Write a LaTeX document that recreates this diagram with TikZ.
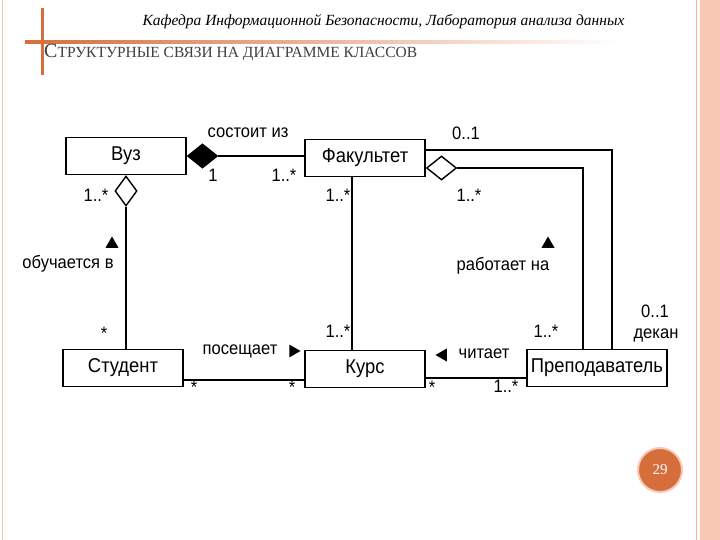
\documentclass[tikz,border=0pt]{standalone}
\usepackage{fontspec}
\setmainfont{Liberation Serif}
\newfontfamily\dsans{Liberation Sans}[FakeStretch=0.92]
\usetikzlibrary{shapes.geometric}
\definecolor{org}{RGB}{214,110,60}
\definecolor{pinkb}{RGB}{248,200,180}
\begin{document}
\begin{tikzpicture}[x=1pt,y=-1pt,
  cls/.style={draw,line width=1.6pt,minimum width=120pt,minimum height=37pt,inner sep=0pt,font=\dsans\fontsize{20}{20}\selectfont},
  lnk/.style={line width=1.6pt},
  lab/.style={font=\dsans\fontsize{18}{18}\selectfont,inner sep=1pt},
  dia/.style={diamond,draw,line width=1.4pt,minimum width=30pt,minimum height=24pt,inner sep=0pt},
  tri/.style={fill=black,regular polygon,regular polygon sides=3,inner sep=0pt,minimum size=15pt}]
\useasboundingbox (0,0) rectangle (720,540);
\fill[white] (0,0) rectangle (720,540);
% right border
\fill[pinkb] (700,0) rectangle (720,540);
\draw[pinkb!80!org,line width=1pt] (696,0) -- (696,540);
\draw[pinkb,line width=1pt] (2,0) -- (2,540);
% header
\shade[left color=org,right color=white] (25,41) rectangle (620,44);
\fill[org] (40.5,8) rectangle (43.5,75);
\node[anchor=east,font=\itshape\fontsize{15.5}{15.5}\selectfont] (hdr) at (628,22) {Кафедра Информационной Безопасности, Лаборатория анализа данных};
\node[anchor=west,inner sep=0pt,font=\fontsize{20}{20}\selectfont,text=black!75] (ttl) at (44,53) {С{\fontsize{15.5}{15.5}\selectfont ТРУКТУРНЫЕ СВЯЗИ НА ДИАГРАММЕ КЛАССОВ}};
% page number
\node[circle,fill=org,draw=pinkb,line width=2pt,minimum size=44pt,text=white,font=\fontsize{15}{15}\selectfont] (pn) at (660,470) {29};
% classes
\node[cls] (vuz) at (126,156) {Вуз};
\node[cls] (fak) at (365,158) {Факультет};
\node[cls] (stu) at (123,368) {Студент};
\node[cls] (kur) at (365,369) {Курс};
\node[cls,minimum width=140pt] (pre) at (597,368) {Преподаватель};
% composition
\node[dia,fill=black,anchor=west] (d1) at (vuz.east) {};
\draw[lnk] (d1.east) -- (fak.west |- d1.east);
% aggregation Vuz-Student
\node[dia,fill=white,minimum width=22pt,minimum height=30pt,anchor=north] (d2) at (vuz.south) {};
\draw[lnk] (d2.south) -- (stu.north -| d2.south);
% Fak-Kurs
\draw[lnk] (352,177) coordinate (fk1) -- (kur.north -| fk1);
% Fak - Prep outer
\coordinate (c1) at (612,150);
\draw[lnk] (fak.east |- c1) -- (c1) -- (pre.north -| c1);
% aggregation Fak-Prep
\node[dia,fill=white,anchor=west] (d3) at (fak.east |- 0,168) {};
\coordinate (c2) at (583,168);
\draw[lnk] (d3.east) -- (c2) -- (pre.north -| c2);
% Student-Kurs, Kurs-Prep
\draw[lnk] (stu.east |- 0,380) -- (kur.west |- 0,380);
\draw[lnk] (kur.east |- 0,378) -- (pre.west |- 0,378);
% labels
\node[lab] (l1) at (248,133) {состоит из};
\node[lab] (l2) at (213,175) {1};
\node[lab] (l3) at (284,175) {1..*};
\node[lab] (l4) at (466,133) {0..1};
\node[lab] (l5) at (96,195) {1..*};
\node[lab] (l6) at (338,195) {1..*};
\node[lab] (l7) at (469,195) {1..*};
\node[tri] (t1) at (112,244) {};
\node[lab] (l8) at (68,264) {обучается в};
\node[tri] (t2) at (548,244) {};
\node[lab] (l9) at (503,266) {работает на};
\node[lab] (l10) at (104,333) {*};
\node[lab] (l11) at (338,331) {1..*};
\node[lab] (l12) at (546,331) {1..*};
\node[lab] (l13) at (655,311) {0..1};
\node[lab] (l14) at (656,335) {декан};
\node[lab] (l15) at (240,351) {посещает};
\node[tri,shape border rotate=-90] (t3) at (293,351) {};
\node[tri,shape border rotate=90] (t4) at (443,355) {};
\node[lab] (l16) at (484,354) {читает};
\node[lab] (l17) at (194,387) {*};
\node[lab] (l18) at (292,387) {*};
\node[lab] (l19) at (432,387) {*};
\node[lab] (l20) at (506,386) {1..*};
\end{tikzpicture}
\end{document}
